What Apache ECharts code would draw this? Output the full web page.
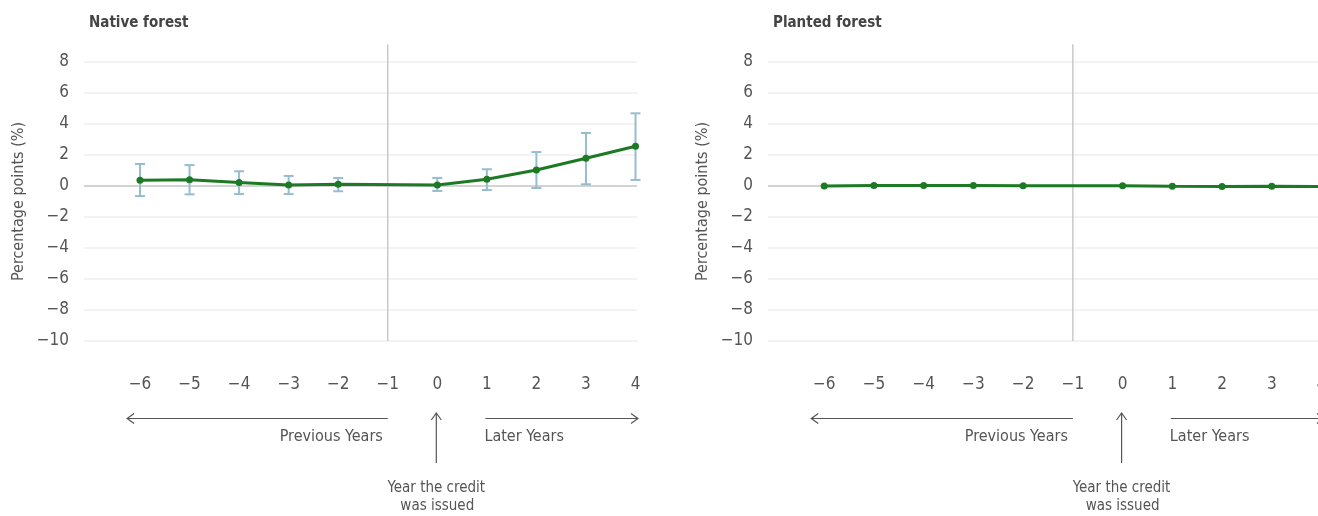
<!DOCTYPE html>
<html>
<head>
<meta charset="utf-8">
<script src="https://cdn.jsdelivr.net/npm/echarts@6/dist/echarts.min.js"></script>
<style>
html,body{margin:0;padding:0;background:#fff;}
#chart{width:1318px;height:516px;}
</style>
</head>
<body>
<div id="chart"></div>
<script>
// ---- data ----
const years = [-6, -5, -4, -3, -2, -1, 0, 1, 2, 3, 4];
const yTicks = [-10, -8, -6, -4, -2, 0, 2, 4, 6, 8];
const nativeValues = [0.37, 0.41, 0.22, 0.07, 0.11, null, 0.06, 0.43, 1.03, 1.79, 2.56];
const nativeLower  = [-0.65, -0.54, -0.52, -0.52, -0.34, null, -0.32, -0.26, -0.13, 0.11, 0.39];
const nativeUpper  = [1.42, 1.35, 0.95, 0.65, 0.52, null, 0.52, 1.08, 2.19, 3.42, 4.69];
const plantedValues = [0.0, 0.04, 0.04, 0.04, 0.02, null, 0.02, -0.02, -0.04, -0.02, -0.04];
const panelTitles = ['Native forest', 'Planted forest'];
const yAxisTitle = 'Percentage points (%)';
const creditYear = 0;
const referenceYear = -1;

const FONT = "'Liberation Sans Narrow', 'DejaVu Sans Condensed', 'Noto Sans', sans-serif";
const TXT = '#555555';
const GREEN = '#1d7a24';
const ERR = '#95bdd2';
const X_MIN = -7.13, X_MAX = 4.03, Y_MIN = -10, Y_MAX = 8, V_TOP = 9.14;

const fmt = v => String(v).replace('-', '\u2212');

const grids = [
  {left: 84, top: 62, width: 553, height: 279, outerBoundsMode: 'none', containLabel: false},
  {left: 768, top: 62, width: 555, height: 279, outerBoundsMode: 'none', containLabel: false}
];

function xAxisCfg(i) {
  return {
    type: 'value', gridIndex: i, min: X_MIN, max: X_MAX,
    axisLine: {show: false}, axisTick: {show: false}, splitLine: {show: false},
    axisLabel: {
      customValues: years, formatter: fmt, margin: 35, hideOverlap: false,
      fontFamily: FONT, fontSize: 17, color: TXT
    }
  };
}
function yAxisCfg(i) {
  return {
    type: 'value', gridIndex: i, min: Y_MIN, max: Y_MAX, interval: 2,
    axisLine: {show: false}, axisTick: {show: false},
    splitLine: {show: true, lineStyle: {color: '#efefef', width: 1.5}},
    axisLabel: {formatter: fmt, margin: 15, fontFamily: FONT, fontSize: 17, color: TXT},
    name: yAxisTitle, nameLocation: 'middle', nameRotate: 90, nameGap: 57,
    nameTextStyle: {fontFamily: FONT, fontSize: 16, color: TXT}
  };
}

function refLines(i) {
  // zero line and vertical reference line, drawn through the axes
  return {
    type: 'custom', xAxisIndex: i, yAxisIndex: i, z: 1, silent: true, clip: false,
    data: [[referenceYear, Y_MIN, V_TOP]],
    renderItem: function (params, api) {
      const cs = params.coordSys;
      const z0 = api.coord([X_MIN, 0]);
      const a = api.coord([api.value(0), api.value(1)]);
      const b = api.coord([api.value(0), api.value(2)]);
      return {
        type: 'group',
        children: [
          {type: 'line', shape: {x1: cs.x, y1: z0[1], x2: cs.x + cs.width, y2: z0[1]},
           style: {stroke: '#c8c8c8', lineWidth: 1.5}},
          {type: 'line', shape: {x1: a[0], y1: a[1], x2: b[0], y2: b[1]},
           style: {stroke: '#bdbdbd', lineWidth: 1.2}}
        ]
      };
    }
  };
}

function errorBars(i, lower, upper) {
  const data = [];
  years.forEach((y, k) => { if (lower[k] != null) data.push([y, lower[k], upper[k]]); });
  return {
    type: 'custom', xAxisIndex: i, yAxisIndex: i, z: 2, silent: true,
    data: data,
    renderItem: function (params, api) {
      const lo = api.coord([api.value(0), api.value(1)]);
      const hi = api.coord([api.value(0), api.value(2)]);
      const w = 5;
      const st = {stroke: ERR, lineWidth: 2};
      return {
        type: 'group',
        children: [
          {type: 'line', shape: {x1: lo[0], y1: lo[1], x2: hi[0], y2: hi[1]}, style: st},
          {type: 'line', shape: {x1: lo[0] - w, y1: lo[1], x2: lo[0] + w, y2: lo[1]}, style: st},
          {type: 'line', shape: {x1: hi[0] - w, y1: hi[1], x2: hi[0] + w, y2: hi[1]}, style: st}
        ]
      };
    }
  };
}

function lineSeries(i, values) {
  return {
    type: 'line', xAxisIndex: i, yAxisIndex: i, z: 3,
    data: years.map((y, k) => [y, values[k]]),
    connectNulls: true, symbol: 'circle', symbolSize: 7,
    lineStyle: {color: GREEN, width: 3}, itemStyle: {color: GREEN},
    silent: true, animation: false
  };
}

const chart = echarts.init(document.getElementById('chart'), null, {renderer: 'canvas'});
chart.setOption({
  animation: false,
  backgroundColor: '#ffffff',
  title: panelTitles.map((t, i) => ({
    text: t, left: grids[i].left + 5, top: 16, padding: 0,
    textStyle: {fontFamily: FONT, fontSize: 15, fontWeight: 'bold', color: '#444'}
  })),
  grid: grids,
  xAxis: [xAxisCfg(0), xAxisCfg(1)],
  yAxis: [yAxisCfg(0), yAxisCfg(1)],
  series: [
    refLines(0), errorBars(0, nativeLower, nativeUpper), lineSeries(0, nativeValues),
    refLines(1), lineSeries(1, plantedValues)
  ]
});

// ---- annotations under each panel, positioned via the x axis ----
const annotations = [];
[0, 1].forEach(i => {
  const px = v => chart.convertToPixel({gridIndex: i}, [v, 0])[0];
  const lineStyle = {stroke: '#555', lineWidth: 1.2, fill: null};
  const xL0 = px(-6.26), xL1 = px(-1.0);
  const xR0 = px(0.97), xR1 = px(4.05);
  const xC = px(creditYear) - 1;
  const yA = 418.5;
  annotations.push(
    {type: 'line', shape: {x1: xL0, y1: yA, x2: xL1, y2: yA}, style: lineStyle},
    {type: 'polyline', shape: {points: [[xL0 + 7, yA - 5], [xL0, yA], [xL0 + 7, yA + 5]]}, style: lineStyle},
    {type: 'line', shape: {x1: xR0, y1: yA, x2: xR1, y2: yA}, style: lineStyle},
    {type: 'polyline', shape: {points: [[xR1 - 7, yA - 5], [xR1, yA], [xR1 - 7, yA + 5]]}, style: lineStyle},
    {type: 'line', shape: {x1: xC, y1: 413, x2: xC, y2: 463}, style: lineStyle},
    {type: 'polyline', shape: {points: [[xC - 5, 420], [xC, 413], [xC + 5, 420]]}, style: lineStyle},
    {type: 'text', x: px(-1.1), y: 437, style: {text: 'Previous Years', align: 'right', verticalAlign: 'middle', font: '16px ' + FONT, fill: TXT}},
    {type: 'text', x: px(0.95), y: 437, style: {text: 'Later Years', align: 'left', verticalAlign: 'middle', font: '16px ' + FONT, fill: TXT}},
    {type: 'text', x: xC, y: 488, style: {text: 'Year the credit', align: 'center', verticalAlign: 'middle', font: '15px ' + FONT, fill: TXT}},
    {type: 'text', x: xC + 1, y: 506, style: {text: 'was issued', align: 'center', verticalAlign: 'middle', font: '15px ' + FONT, fill: TXT}}
  );
});
chart.setOption({graphic: annotations});
</script>
</body>
</html>
